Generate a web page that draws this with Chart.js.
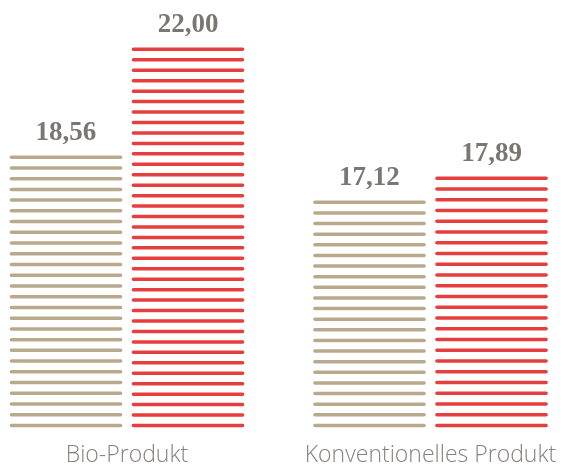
<!DOCTYPE html>
<html lang="de">
<head>
<meta charset="utf-8">
<title>Bio-Produkt vs. konventionelles Produkt</title>
<script src="https://cdn.jsdelivr.net/npm/chart.js@4.4.1/dist/chart.umd.min.js"></script>
<style>
  html, body { margin: 0; padding: 0; background: #fff; }
  #wrap { width: 564px; height: 468px; position: relative; }
</style>
</head>
<body>
<div id="wrap"><canvas id="priceChart"></canvas></div>
<script>
const categories = ['Bio-Produkt', 'Konventionelles Produkt'];
const tanValues = [18.56, 17.12];
const redValues = [22.00, 17.89];
const axisMin = 10;
const axisMax = 23;

const tanColor = '#b8a98c';
const redColor = '#e53e3e';

// bars are drawn as stacks of horizontal rounded lines instead of filled boxes
const stripedBars = {
  id: 'stripedBars',
  afterDatasetsDraw(chart) {
    const ctx = chart.ctx;
    chart.data.datasets.forEach((ds, i) => {
      const meta = chart.getDatasetMeta(i);
      meta.data.forEach((bar, j) => {
        const { x, y, base, width } = bar.getProps(['x', 'y', 'base', 'width'], true);
        const lw = 3.5;
        const h = base - y;
        const gaps = Math.max(1, Math.round(h / 10.55));
        const step = h / gaps;
        const left = x - width / 2 + lw / 2;
        const right = x + width / 2 - lw / 2;

        ctx.save();
        ctx.strokeStyle = ds.stripeColor;
        ctx.lineWidth = lw;
        ctx.lineCap = 'round';
        ctx.beginPath();
        for (let k = 0; k <= gaps; k++) {
          const sy = y + k * step;
          ctx.moveTo(left, sy);
          ctx.lineTo(right, sy);
        }
        ctx.stroke();

        // value above the bar
        const value = ds.data[j];
        ctx.fillStyle = '#7b7672';
        ctx.font = 'bold 27px "Liberation Serif", serif';
        ctx.textAlign = 'center';
        ctx.textBaseline = 'alphabetic';
        ctx.fillText(value.toFixed(2).replace('.', ','), x, y - 17);
        ctx.restore();
      });
    });
  }
};

new Chart(document.getElementById('priceChart'), {
  type: 'bar',
  data: {
    labels: categories,
    datasets: [
      {
        data: tanValues,
        base: axisMin,
        backgroundColor: 'rgba(0,0,0,0)',
        stripeColor: tanColor
      },
      {
        data: redValues,
        base: axisMin,
        backgroundColor: 'rgba(0,0,0,0)',
        stripeColor: redColor
      }
    ]
  },
  options: {
    responsive: true,
    maintainAspectRatio: false,
    animation: false,
    categoryPercentage: 0.804,
    barPercentage: 0.924,
    layout: {
      padding: { left: 127, right: 133.5, top: 18, bottom: 0 }
    },
    plugins: {
      legend: { display: false },
      tooltip: { enabled: false }
    },
    scales: {
      x: {
        offset: false,
        grid: { color: 'rgba(0,0,0,0)', drawOnChartArea: false, drawTicks: true, tickLength: 16 },
        border: { display: false },
        ticks: {
          color: '#86827f',
          padding: 0,
          maxRotation: 0,
          autoSkip: false,
          font: { family: '"Open Sans", sans-serif', size: 23, weight: '300' }
        },
        afterFit(scale) {
          scale.height = 42.5;
        }
      },
      y: {
        display: false,
        min: axisMin,
        max: axisMax
      }
    }
  },
  plugins: [stripedBars]
});
</script>
</body>
</html>
